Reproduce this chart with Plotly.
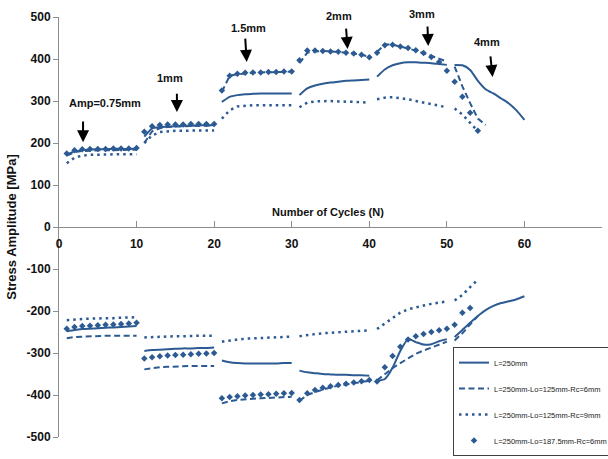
import plotly.graph_objects as go

# ---------------- data ----------------
series_names = [
    "L=250mm",
    "L=250mm-Lo=125mm-Rc=6mm",
    "L=250mm-Lo=125mm-Rc=9mm",
    "L=250mm-Lo=187.5mm-Rc=6mm",
]

# tension (positive) stress amplitudes, MPa
A_cyc_t = list(range(1, 61))
A_ten = [172, 180, 183, 184, 185, 185, 186, 186, 186, 187,
         215, 235, 238, 239, 240, 241, 241, 242, 242, 243,
         298, 310, 314, 316, 317, 318, 318, 318, 318, 318,
         314, 330, 337, 341, 344, 346, 348, 349, 350, 351,
         358, 375, 385, 390, 392, 392, 391, 390, 388, 386,
         386, 385, 374, 348, 328, 318, 306, 294, 277, 255]

B_cyc_t = list(range(1, 56))
B_ten = [170, 178, 181, 182, 182, 183, 183, 183, 184, 184,
         200, 228, 235, 238, 239, 240, 240, 241, 241, 242,
         322, 360, 364, 366, 367, 368, 368, 369, 369, 370,
         390, 415, 418, 419, 418, 417, 415, 413, 410, 405,
         417, 435, 434, 430, 425, 420, 414, 408, 401, 394,
         382, 335, 295, 258, 243]

C_cyc_t = list(range(1, 55))
C_ten = [152, 165, 170, 172, 172, 173, 173, 173, 173, 173,
         200, 218, 226, 228, 229, 229, 230, 230, 230, 230,
         258, 278, 287, 289, 290, 290, 290, 290, 290, 290,
         285, 296, 299, 300, 300, 299, 299, 298, 297, 296,
         304, 308, 309, 307, 304, 300, 296, 292, 289, 285,
         282, 268, 248, 228]

D_cyc_t = list(range(1, 55))
D_ten = [175, 183, 185, 186, 186, 186, 187, 187, 187, 188,
         227, 240, 243, 244, 244, 244, 245, 245, 245, 245,
         325, 360, 365, 367, 368, 368, 369, 369, 370, 370,
         397, 420, 420, 419, 418, 417, 415, 413, 410, 404,
         415, 433, 434, 430, 426, 421, 414, 405, 393, 372,
         346, 310, 272, 229]

# compression (negative) stress amplitudes, MPa
A_cyc_c = list(range(1, 61))
A_com = [-248, -245, -243, -242, -241, -240, -239, -238, -237, -236,
         -295, -293, -292, -291, -290, -289, -289, -288, -288, -287,
         -318, -322, -324, -325, -325, -325, -325, -325, -324, -324,
         -342, -346, -348, -350, -351, -352, -352, -353, -353, -354,
         -366, -362, -335, -295, -267, -274, -280, -279, -272, -267,
         -262, -245, -228, -212, -198, -188, -181, -177, -172, -165]

B_cyc_c = list(range(1, 55))
B_com = [-265, -262, -261, -260, -260, -259, -259, -259, -259, -259,
         -339, -336, -334, -333, -332, -332, -331, -331, -331, -331,
         -420, -415, -412, -410, -409, -408, -407, -406, -405, -404,
         -414, -400, -393, -387, -382, -378, -375, -372, -369, -366,
         -365, -350, -336, -324, -312, -302, -294, -287, -280, -273,
         -270, -253, -232, -212]

C_cyc_c = list(range(1, 55))
C_com = [-222, -220, -219, -218, -218, -217, -217, -216, -216, -215,
         -263, -262, -261, -260, -260, -260, -259, -259, -259, -259,
         -273, -270, -268, -266, -265, -264, -263, -262, -262, -261,
         -260, -257, -255, -253, -252, -251, -250, -249, -248, -246,
         -243, -230, -215, -204, -196, -191, -187, -183, -180, -177,
         -175, -162, -143, -125]

D_cyc_c = list(range(1, 54))
D_com = [-242, -238, -236, -235, -234, -233, -232, -231, -230, -228,
         -313, -310, -308, -306, -305, -304, -303, -302, -301, -300,
         -408, -405, -403, -401, -400, -399, -398, -397, -396, -395,
         -412, -396, -388, -383, -379, -376, -373, -370, -367, -364,
         -368, -334, -307, -285, -268, -260, -255, -250, -246, -242,
         -233, -204, -193]

amp_labels = ["Amp=0.75mm", "1mm", "1.5mm", "2mm", "3mm", "4mm"]
x_ticks = [0, 10, 20, 30, 40, 50, 60, 70]
y_ticks = [500, 400, 300, 200, 100, 0, -100, -200, -300, -400, -500]

# ---------------- helpers ----------------
def split_blocks(cyc, val):
    """Break the line between amplitude blocks of 10 cycles."""
    xs, ys = [], []
    for i, (c, v) in enumerate(zip(cyc, val)):
        if i > 0 and (c - 1) % 10 == 0:
            xs.append(None)
            ys.append(None)
        xs.append(c)
        ys.append(v)
    return xs, ys

BLUE = "#2c5a92"
FONT = "Liberation Sans"
Y_MIN, Y_MAX = -500, 500

styles = [
    dict(mode="lines", line=dict(color=BLUE, width=2, shape="spline", smoothing=0.6)),
    dict(mode="lines", line=dict(color=BLUE, width=2, dash="6px,3.5px")),
    dict(mode="lines", line=dict(color=BLUE, width=2.5, dash="2.5px,4px")),
    dict(mode="markers", marker=dict(color=BLUE, symbol="diamond", size=5)),
]

data_sets = [
    (A_cyc_t, A_ten, A_cyc_c, A_com),
    (B_cyc_t, B_ten, B_cyc_c, B_com),
    (C_cyc_t, C_ten, C_cyc_c, C_com),
    (D_cyc_t, D_ten, D_cyc_c, D_com),
]

fig = go.Figure()
for k, (ct, vt, cc, vc) in enumerate(data_sets):
    for j, (cx, vy) in enumerate([(ct, vt), (cc, vc)]):
        xs, ys = split_blocks(cx, vy)
        fig.add_trace(go.Scatter(
            x=xs, y=ys, name=series_names[k], legendgroup=series_names[k],
            showlegend=(j == 0), connectgaps=False, **styles[k]))

# ---------------- annotations ----------------
txt_pos = [(5.9, 295), (14.3, 355), (24.4, 474), (36.1, 502), (46.8, 507), (55.2, 440)]
arrow_tail = [(3.1, 255), (15.2, 321), (24.0, 452), (37.0, 476), (47.5, 481), (55.6, 410)]
arrow_head = [(3.1, 202), (15.2, 274), (24.2, 393), (37.2, 424), (47.6, 431), (55.9, 357)]

def to_paper(s):
    return (s - Y_MIN) / (Y_MAX - Y_MIN)

annotations = []
for lab, (tx, ty) in zip(amp_labels, txt_pos):
    annotations.append(dict(x=tx, y=to_paper(ty), xref="x", yref="paper", text=lab,
                            xanchor="center", yanchor="middle", showarrow=False,
                            font=dict(family=FONT, size=11, color="#111", weight="bold")))
for (hx, hy), (tx, ty) in zip(arrow_head, arrow_tail):
    annotations.append(dict(x=hx, y=hy, ax=tx, ay=ty, xref="x", yref="y", axref="x", ayref="y",
                            text="", showarrow=True, arrowhead=2, arrowsize=1.2,
                            arrowwidth=2, arrowcolor="#000"))
annotations.append(dict(x=34.7, y=36, xref="x", yref="y", text="Number of Cycles (N)",
                        showarrow=False, font=dict(family=FONT, size=11, color="#111", weight="bold")))

fig.update_layout(
    width=608, height=459,
    margin=dict(l=59, r=6, t=17, b=22, autoexpand=False),
    paper_bgcolor="white", plot_bgcolor="white",
    showlegend=True,
    legend=dict(x=0.7256, y=0.214, xanchor="left", yanchor="top",
                bordercolor="#404040", borderwidth=1, bgcolor="white",
                font=dict(family=FONT, size=7.5, color="#222"),
                traceorder="grouped", tracegroupgap=7, itemwidth=30),
    annotations=annotations,
    xaxis=dict(range=[0, 70], tickvals=x_ticks, ticktext=[str(t) for t in x_ticks],
               anchor="free", position=0.5, showgrid=False, zeroline=False,
               showline=True, linecolor="#8c8c8c", linewidth=1,
               ticks="inside", ticklen=6, tickcolor="#8c8c8c", ticklabelstandoff=6,
               tickfont=dict(family=FONT, size=12, color="#111", weight="bold")),
    yaxis=dict(range=[Y_MIN, Y_MAX], tickvals=y_ticks, ticktext=[str(t) for t in y_ticks],
               showgrid=False, zeroline=False, showline=True, linecolor="#8c8c8c", linewidth=1,
               ticks="outside", ticklen=5, tickcolor="#8c8c8c",
               tickfont=dict(family=FONT, size=12, color="#111", weight="bold"),
               title=dict(text="Stress Amplitude [MPa]", standoff=7,
                          font=dict(family=FONT, size=13, color="#111", weight="bold"))),
)

fig.write_html("out.html", config={"displayModeBar": False},
               post_script="document.body.style.margin='0px';document.body.style.padding='0px';")
